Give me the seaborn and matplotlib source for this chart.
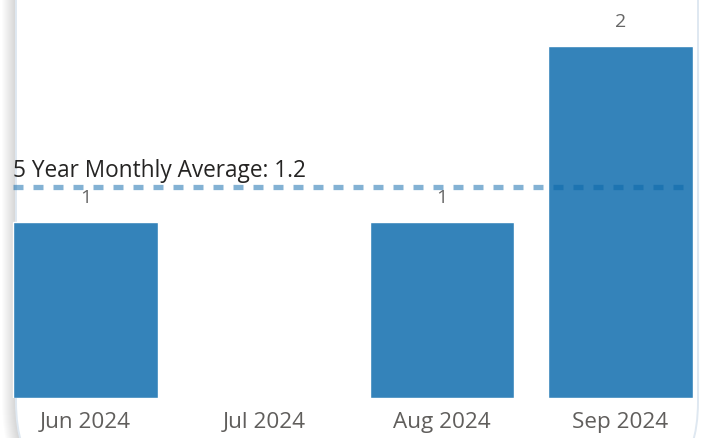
import matplotlib
matplotlib.use("Agg")
import matplotlib.pyplot as plt
import seaborn as sns
import pandas as pd
from matplotlib.patches import FancyBboxPatch

# ---- data ----
months = ["Jun 2024", "Jul 2024", "Aug 2024", "Sep 2024"]
counts = [1, 0, 1, 2]
avg_value = 1.2
avg_label = "5 Year Monthly Average: 1.2"

df = pd.DataFrame({"month": months, "count": counts})

sns.set_theme(style="white")
plt.rcParams["font.family"] = ["Open Sans", "DejaVu Sans"]
plt.rcParams["lines.scale_dashes"] = False

W, H, DPI = 701, 438, 100
fig = plt.figure(figsize=(W / DPI, H / DPI), dpi=DPI)
fig.patch.set_facecolor("white")

# ---- background card (pixel coordinates) ----
bg = fig.add_axes([0, 0, 1, 1], zorder=0)
bg.set_xlim(0, W)
bg.set_ylim(H, 0)
bg.axis("off")
card_x0, card_x1 = 16, 698
card_y0, card_y1 = -250, 502
r = 100
for k in range(14, 0, -1):
    bg.add_patch(FancyBboxPatch((card_x0 - k, card_y0 - k),
                                (card_x1 - card_x0) + k, (card_y1 - card_y0) + 2 * k,
                                boxstyle=f"round,pad=0,rounding_size={r + k}",
                                facecolor=(0, 0, 0, 0.012), edgecolor="none"))
bg.add_patch(FancyBboxPatch((card_x0, card_y0), card_x1 - card_x0, card_y1 - card_y0,
                            boxstyle=f"round,pad=0,rounding_size={r}",
                            facecolor="white", edgecolor="#dfe8f1", linewidth=1.4))

# ---- main chart ----
ax = fig.add_axes([0, 40 / H, 1, 398 / H], zorder=2)
ax.patch.set_alpha(0)
sns.barplot(data=df, x="month", y="count", color="#3483BA", saturation=1,
            width=0.81, ax=ax, zorder=2)

ax.set_xlim(-0.4795, 3.452)
ax.set_ylim(0, 398 / 176)
for s in ax.spines.values():
    s.set_visible(False)
ax.set_yticks([])
ax.set_xlabel("")
ax.set_ylabel("")
ax.tick_params(axis="x", length=0, pad=10, labelsize=16.2, labelcolor="#605E5C")

# data labels
for c in ax.containers:
    ax.bar_label(c, labels=[f"{v:g}" if v else "" for v in c.datavalues],
                 padding=11, fontsize=14, color="#666666")

# average line
ax.plot([-0.405, 3.4], [avg_value, avg_value], color="#0866AA", alpha=0.5,
        linewidth=3.8, dashes=(7.2, 7.2), solid_capstyle="butt",
        dash_capstyle="butt", zorder=3)
ax.text(-0.405, 1.255, avg_label, ha="left", va="baseline", fontsize=16.3,
        color="#252423")

fig.savefig("out.png", dpi=DPI)
